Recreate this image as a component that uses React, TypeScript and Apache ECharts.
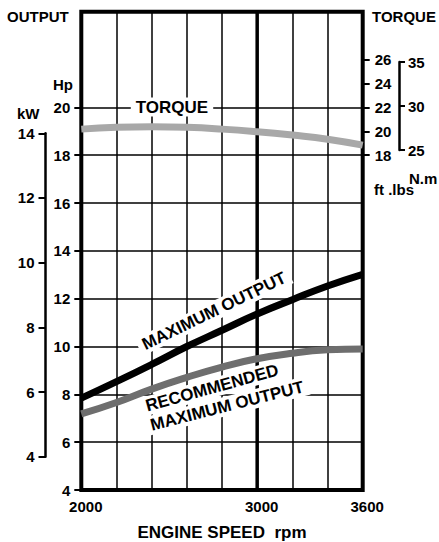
import React, { useEffect, useRef } from "react";
import * as echarts from "echarts";

// ---- data ----
const rpm = [2000, 2200, 2400, 2600, 2800, 3000, 3200, 3400, 3600];
const maxOutputHp = [7.84, 8.53, 9.25, 10.0, 10.68, 11.36, 11.96, 12.53, 13.02];
const recommendedHp = [7.18, 7.66, 8.22, 8.71, 9.14, 9.49, 9.72, 9.86, 9.9];
const torqueFtLbs = [20.18, 20.33, 20.38, 20.33, 20.18, 19.96, 19.68, 19.34, 18.84];

const rpmLabels = [2000, 3000, 3600];
const majorRpm = 3000;
const hpTicks = [4, 6, 8, 10, 12, 14, 16, 18, 20];
const torqueTicks = [18, 20, 22, 24, 26];

const FONT = "'Liberation Sans', Arial, Helvetica, sans-serif";

export default function App() {
  const ref = useRef<HTMLDivElement>(null);
  useEffect(() => {
    const chart = echarts.init(ref.current!, null, { renderer: "svg" });
    const bold = { fontFamily: FONT, fontWeight: "bold" as const, color: "#000" };
    const txt = (
      text: string,
      x: number,
      y: number,
      size: number,
      align: string,
      rotation = 0,
      bg = false
    ) => ({
      type: "text",
      x,
      y,
      rotation,
      z: 50,
      style: {
        text,
        font: `bold ${size}px ${FONT}`,
        fill: "#000",
        textAlign: align,
        textVerticalAlign: "middle",
        ...(bg ? { backgroundColor: "#fff", padding: [1, 5] } : {}),
      },
    });
    const option = {
      animation: false,
      backgroundColor: "#fff",
      grid: [
        {
          left: 81.3,
          right: 76.3,
          top: 11.7,
          bottom: 52,
          show: true,
          borderColor: "#000",
          borderWidth: 4,
          backgroundColor: "transparent",
          containLabel: false,
          outerBoundsMode: "none",
        },
        {
          left: 45.5,
          width: 10,
          top: 133.3,
          bottom: 542 - 456.7,
          containLabel: false,
          outerBoundsMode: "none",
        },
        {
          left: 380,
          right: 40,
          top: 62,
          bottom: 392,
          containLabel: false,
          outerBoundsMode: "none",
        },
      ],
      xAxis: [
        {
          gridIndex: 0,
          type: "value",
          min: 2000,
          max: 3600,
          interval: 200,
          axisLine: { show: false, onZero: false },
          axisTick: { show: false },
          axisLabel: {
            customValues: rpmLabels,
            formatter: (v: number) => String(v),
            ...bold,
            fontSize: 15,
            margin: 9,
            padding: [0, 0, 0, 9],
          },
          splitLine: { show: true, lineStyle: { color: "#000", width: 1.5 } },
          name: "ENGINE SPEED  rpm",
          nameLocation: "middle",
          nameGap: 34,
          nameTextStyle: { ...bold, fontSize: 17 },
        },
        { gridIndex: 1, type: "value", min: 0, max: 1, show: false },
        { gridIndex: 2, type: "value", min: 0, max: 1, show: false },
      ],
      yAxis: [
        {
          gridIndex: 0,
          type: "value",
          position: "left",
          min: 4,
          max: 24,
          interval: 2,
          axisLine: { show: false, onZero: false },
          axisTick: {
            show: true,
            customValues: hpTicks,
            length: 7,
            lineStyle: { color: "#000", width: 2 },
          },
          axisLabel: { customValues: hpTicks, ...bold, fontSize: 15, margin: 11 },
          splitLine: { show: true, lineStyle: { color: "#000", width: 1.5 } },
        },
        {
          gridIndex: 0,
          type: "value",
          position: "right",
          min: -10,
          max: 30,
          interval: 2,
          axisLine: { show: false, onZero: false },
          axisTick: {
            show: true,
            customValues: torqueTicks,
            length: 7,
            lineStyle: { color: "#000", width: 2 },
          },
          axisLabel: { customValues: torqueTicks, ...bold, fontSize: 15, margin: 12 },
          splitLine: { show: false },
        },
        {
          gridIndex: 1,
          type: "value",
          position: "left",
          min: 4,
          max: 14,
          interval: 2,
          axisLine: { show: true, onZero: false, lineStyle: { color: "#000", width: 2.5 } },
          axisTick: { show: true, length: 7, lineStyle: { color: "#000", width: 2 } },
          axisLabel: { ...bold, fontSize: 15, margin: 11 },
          splitLine: { show: false },
        },
        {
          gridIndex: 2,
          type: "value",
          position: "right",
          min: 25,
          max: 35,
          interval: 5,
          axisLine: { show: true, onZero: false, lineStyle: { color: "#000", width: 2.5 } },
          axisTick: { show: true, length: 6, lineStyle: { color: "#000", width: 2 } },
          axisLabel: { ...bold, fontSize: 15, margin: 9 },
          splitLine: { show: false },
        },
      ],
      series: [
        {
          type: "line",
          xAxisIndex: 0,
          yAxisIndex: 0,
          z: 1,
          symbol: "none",
          data: [
            [majorRpm, 4],
            [majorRpm, 24],
          ],
          lineStyle: { color: "#000", width: 3.5 },
        },
        {
          type: "line",
          name: "TORQUE",
          xAxisIndex: 0,
          yAxisIndex: 1,
          smooth: true,
          symbol: "none",
          data: rpm.map((r, i) => [r, torqueFtLbs[i]]),
          lineStyle: { color: "#a8a8a8", width: 7 },
        },
        {
          type: "line",
          name: "RECOMMENDED MAXIMUM OUTPUT",
          xAxisIndex: 0,
          yAxisIndex: 0,
          smooth: true,
          symbol: "none",
          data: rpm.map((r, i) => [r, recommendedHp[i]]),
          lineStyle: { color: "#6e6e6e", width: 7 },
        },
        {
          type: "line",
          name: "MAXIMUM OUTPUT",
          xAxisIndex: 0,
          yAxisIndex: 0,
          smooth: true,
          symbol: "none",
          data: rpm.map((r, i) => [r, maxOutputHp[i]]),
          lineStyle: { color: "#000", width: 7 },
        },
      ],
      graphic: [
        txt("OUTPUT", 7, 16, 15, "left"),
        txt("TORQUE", 372, 16, 15, "left"),
        txt("Hp", 53, 84, 15, "left"),
        txt("kW", 17, 113, 15, "left"),
        txt("N.m", 409, 178, 15, "left"),
        txt("ft .lbs", 374, 189, 15, "left"),
        txt("TORQUE", 172, 107, 17, "center", 0, true),
        txt("MAXIMUM OUTPUT", 214, 311, 17, "center", 0.45, true),
        txt("RECOMMENDED", 212, 388, 17, "center", 0.27, true),
        txt("MAXIMUM OUTPUT", 227, 406, 17, "center", 0.25, true),
      ],
    };
    chart.setOption(option as any);
    return () => chart.dispose();
  }, []);
  return (
    <div
      ref={ref}
      style={{ position: "absolute", left: 0, top: 0, width: 439, height: 542 }}
    />
  );
}
